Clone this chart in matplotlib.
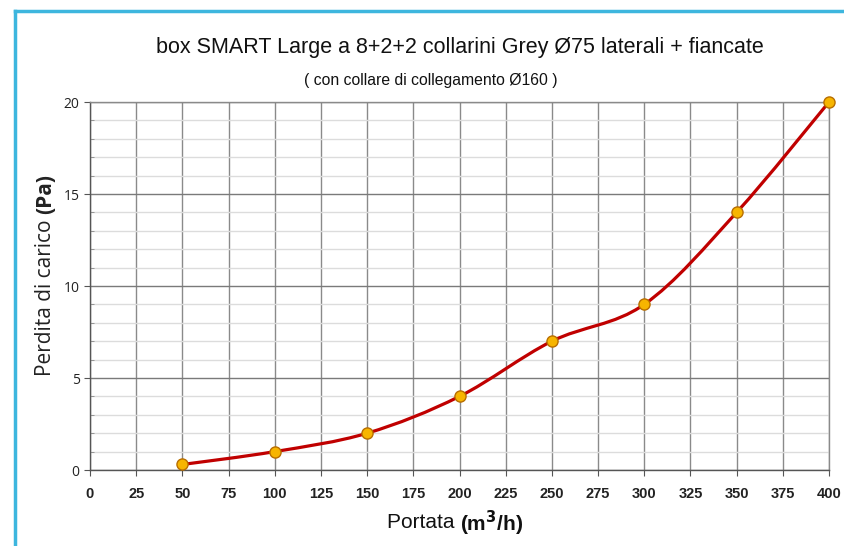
import numpy as np
import matplotlib
matplotlib.use("Agg")
import matplotlib.pyplot as plt
from matplotlib.path import Path
from matplotlib.patches import PathPatch
from matplotlib.lines import Line2D
from matplotlib.ticker import MultipleLocator

portata = [50, 100, 150, 200, 250, 300, 350, 400]
perdita = [0.3, 1, 2, 4, 7, 9, 14, 20]
x_ticks = [0, 25, 50, 75, 100, 125, 150, 175, 200, 225, 250, 275, 300, 325, 350, 375, 400]
y_ticks = [0, 5, 10, 15, 20]

title = "box SMART Large a 8+2+2 collarini Grey Ø75 laterali + fiancate"
subtitle = "( con collare di collegamento Ø160 )"

narrow = ["Liberation Sans Narrow", "Liberation Sans", "DejaVu Sans"]

fig = plt.figure(figsize=(8.44, 5.46), dpi=100)
ax = fig.add_axes([90/844, 1-470/546, (829-90)/844, (470-102)/546])

ax.set_xlim(0, 400)
ax.set_ylim(0, 20)
ax.set_xticks(x_ticks)
ax.set_yticks(y_ticks)
ax.yaxis.set_minor_locator(MultipleLocator(1))

ax.grid(True, which="major", axis="x", color="#8a8a8a", lw=1.0)
ax.grid(True, which="major", axis="y", color="#7a7a7a", lw=1.0)
ax.grid(True, which="minor", axis="y", color="#dcdcdc", lw=1.0)
ax.set_axisbelow(True)
for s in ax.spines.values():
    s.set_color("#8a8a8a")
    s.set_linewidth(1.0)
ax.spines["bottom"].set_color("#555555")
ax.spines["left"].set_color("#555555")

ax.tick_params(axis="both", which="major", length=4, color="#555555")
ax.tick_params(axis="y", which="minor", length=3, color="#888888", direction="in")
ax.set_xticklabels([str(v) for v in x_ticks], fontfamily=narrow, fontweight="bold",
                   fontsize=10.5, color="#222222")
ax.set_yticklabels([str(v) for v in y_ticks], fontfamily="Open Sans", fontsize=10,
                   color="#222222")
ax.tick_params(axis="x", pad=8)

# smoothed curve (Excel-like Catmull-Rom Bezier)
P = np.column_stack([portata, perdita]).astype(float)
verts = [tuple(P[0])]
codes = [Path.MOVETO]
n = len(P)
for i in range(n - 1):
    p0 = P[i - 1] if i > 0 else P[i]
    p1 = P[i]
    p2 = P[i + 1]
    p3 = P[i + 2] if i + 2 < n else P[i + 1]
    c1 = p1 + (p2 - p0) / 6.0
    c2 = p2 - (p3 - p1) / 6.0
    verts += [tuple(c1), tuple(c2), tuple(p2)]
    codes += [Path.CURVE4] * 3
patch = PathPatch(Path(verts, codes), facecolor="none", edgecolor="#c00000", lw=2.3,
                  zorder=3, clip_on=False)
ax.add_patch(patch)
ax.plot(portata, perdita, ls="none", marker="o", ms=8, mfc="#f7b500", mec="#b86e00",
        mew=1.0, zorder=4, clip_on=False)

fig.text(460/844, 1-47/546, title, ha="center", va="center", fontfamily=narrow,
         fontsize=15.5, color="#111111")
fig.text(431/844, 1-80/546, subtitle, ha="center", va="center", fontfamily=narrow,
         fontsize=11.3, color="#111111")

fig.text(460/844, 1-523/546, "Portata ", ha="right", va="center", fontfamily=narrow,
         fontsize=15, color="#111111")
fig.text(460/844, 1-523/546, r"(m$^\mathbf{3}$/h)", ha="left", va="center",
         fontfamily=narrow, fontsize=15, fontweight="bold", color="#111111")

fig.text(46/844, 1-214/546, "Perdita di carico ", ha="center", va="top", rotation=90,
         fontfamily="Open Sans", fontsize=15, color="#222222")
fig.text(46/844, 1-214/546, "(Pa)", ha="center", va="bottom", rotation=90,
         fontfamily="Open Sans", fontsize=15, fontweight="bold", color="#222222")

# light blue frame (top and left)
fig.add_artist(Line2D([15/844, 15/844], [0, 1-11/546], transform=fig.transFigure,
                      color="#3db6de", lw=2.5))
fig.add_artist(Line2D([15/844, 1], [1-11/546, 1-11/546], transform=fig.transFigure,
                      color="#3db6de", lw=2.5))

fig.savefig("out.png", dpi=100)
